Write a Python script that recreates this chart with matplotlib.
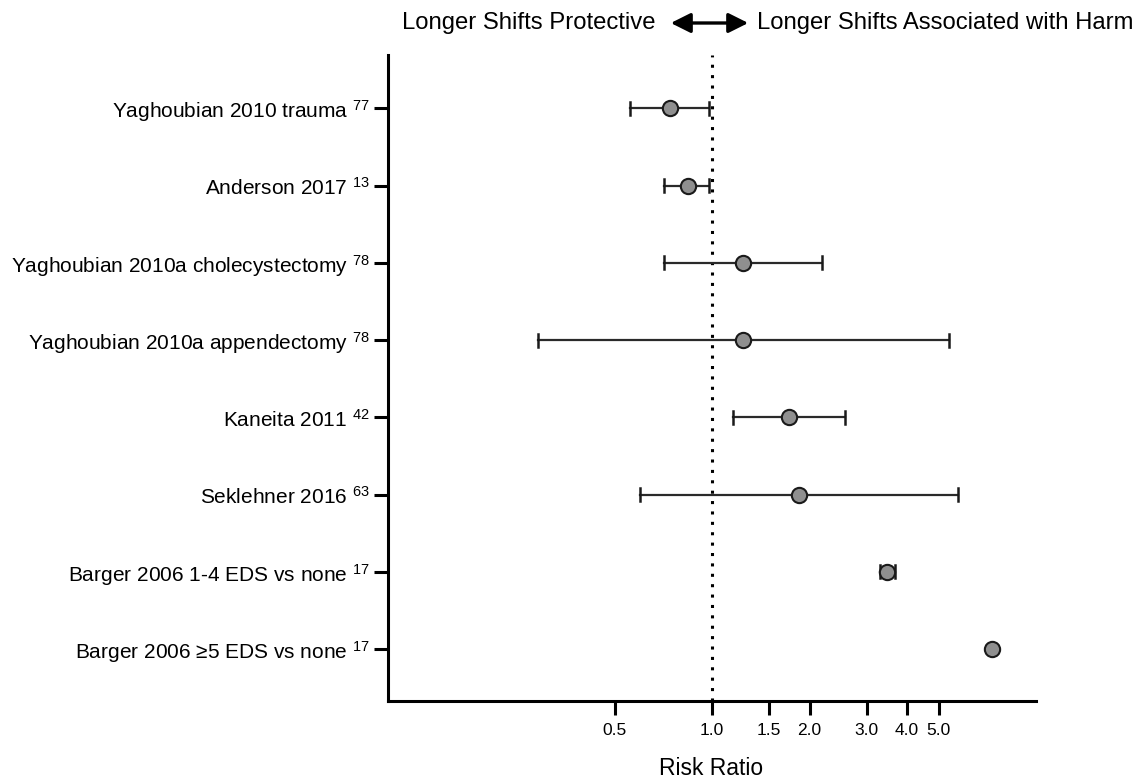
import matplotlib
matplotlib.use("Agg")
import matplotlib.pyplot as plt
from matplotlib.patches import FancyArrowPatch
from matplotlib.ticker import FixedLocator, FixedFormatter, NullLocator

plt.rcParams["font.family"] = ["Liberation Sans", "DejaVu Sans"]
plt.rcParams["mathtext.fontset"] = "custom"
plt.rcParams["mathtext.rm"] = "Liberation Sans"
plt.rcParams["mathtext.it"] = "Liberation Sans:italic"
plt.rcParams["mathtext.bf"] = "Liberation Sans:bold"

# Studies, reference numbers and risk ratios with 95% CI
studies = [
    "Yaghoubian 2010 trauma",
    "Anderson 2017",
    "Yaghoubian 2010a cholecystectomy",
    "Yaghoubian 2010a appendectomy",
    "Kaneita 2011",
    "Seklehner 2016",
    "Barger 2006 1-4 EDS vs none",
    "Barger 2006 \u22655 EDS vs none",
]
refs = ["77", "13", "78", "78", "42", "63", "17", "17"]
rr = [0.74, 0.84, 1.25, 1.25, 1.73, 1.86, 3.47, 7.33]
ci_low = [0.56, 0.71, 0.71, 0.29, 1.16, 0.60, 3.30, 7.33]
ci_high = [0.98, 0.98, 2.19, 5.37, 2.58, 5.72, 3.67, 7.33]

xticks = [0.5, 1.0, 1.5, 2.0, 3.0, 4.0, 5.0]
xticklabels = ["0.5", "1.0", "1.5", "2.0", "3.0", "4.0", "5.0"]

fig = plt.figure(figsize=(11.33, 7.81), dpi=100)
ax = fig.add_axes([0.3425, 0.1025, 0.572, 0.827])

ypos = list(range(1, len(studies) + 1))

# Line of no effect
ax.axvline(1.0, color="black", lw=2.2, linestyle=(0, (1, 2.4)), zorder=1)

# Confidence intervals with end caps
for y, lo, hi in zip(ypos, ci_low, ci_high):
    if hi > lo:
        ax.plot([lo, hi], [y, y], color="#2a2a2a", lw=1.6, zorder=2)
        for xc in (lo, hi):
            ax.plot([xc, xc], [y - 0.085, y + 0.085], color="#1a1a1a",
                    lw=1.8, zorder=2)

# Point estimates
ax.plot(rr, ypos, linestyle="none", marker="o", markersize=11,
        markerfacecolor="#8f8f8f", markeredgecolor="#1a1a1a",
        markeredgewidth=1.5, zorder=3)

ax.set_xscale("log")
ax.set_xlim(0.1, 10)
ax.set_ylim(8.67, 0.31)

ax.xaxis.set_major_locator(FixedLocator(xticks))
ax.xaxis.set_major_formatter(FixedFormatter(xticklabels))
ax.xaxis.set_minor_locator(NullLocator())

ax.set_yticks(ypos)
ax.set_yticklabels([f"{s} $^{{\\mathrm{{{r}}}}}$" for s, r in zip(studies, refs)],
                   fontsize=15)

for side in ("top", "right"):
    ax.spines[side].set_visible(False)
for side in ("left", "bottom"):
    ax.spines[side].set_linewidth(2.2)

ax.tick_params(axis="x", length=10, width=2.2, labelsize=12.5, pad=6)
ax.tick_params(axis="y", length=10, width=2.2, pad=3)

# Axis title
fig.text(711 / 1133, 1 - 775 / 781, "Risk Ratio", ha="center",
         va="baseline", fontsize=16.5)

# Direction header
yh = 1 - 23 / 781
fig.text(655 / 1133, yh, "Longer Shifts Protective", ha="right", va="center",
         fontsize=17.2)
fig.text(757 / 1133, yh, "Longer Shifts Associated with Harm", ha="left",
         va="center", fontsize=17.2)
fig.patches.append(FancyArrowPatch(
    (668 / 1133, yh), (751 / 1133, yh), transform=fig.transFigure,
    arrowstyle="<|-|>,head_length=1.0,head_width=0.5", lw=2.4,
    color="black", mutation_scale=12))

fig.savefig("out.png", dpi=100)
